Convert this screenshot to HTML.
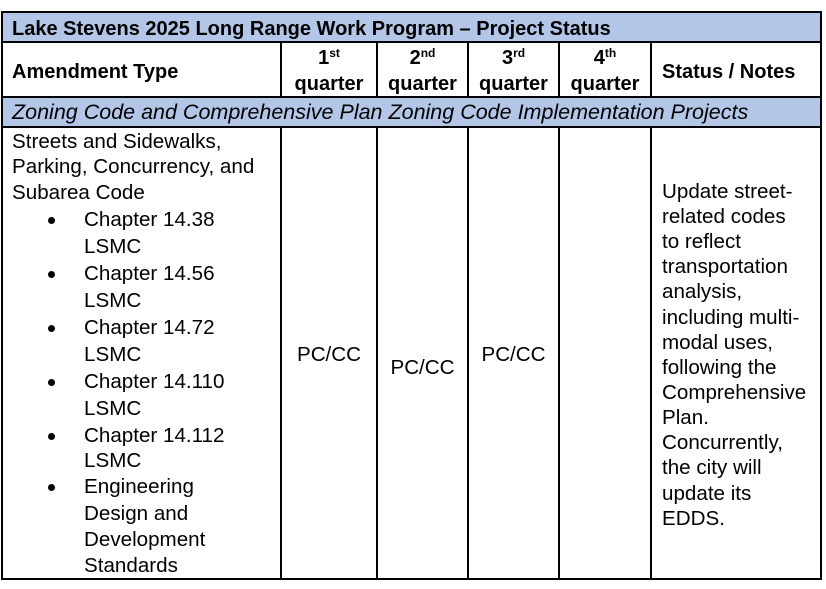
<!DOCTYPE html>
<html><head><style>
body{margin:0;width:826px;height:589px;background:#fff;position:relative;overflow:hidden;font-family:"Liberation Sans",Arial,sans-serif;font-size:20.6px;color:#000}
.b{position:absolute;background:#b4c6e7}
.h{position:absolute;height:2px;background:#000}
.v{position:absolute;width:2px;background:#000}
.t{position:absolute;height:26px;line-height:26px;white-space:nowrap;margin-top:2px}
.c{text-align:center}
.bo{font-weight:bold;font-size:20px}
sup{font-size:12px;vertical-align:7px;line-height:0}
.dot{position:absolute;width:7px;height:7px;border-radius:50%;background:#000;margin-top:2px}
</style></head><body>
<div class="b" style="left:2px;top:12px;width:819px;height:30px"></div>
<div class="b" style="left:2px;top:97px;width:819px;height:30px"></div>
<div class="h" style="left:1px;top:11px;width:821px"></div>
<div class="h" style="left:1px;top:41px;width:821px"></div>
<div class="h" style="left:1px;top:96px;width:821px"></div>
<div class="h" style="left:1px;top:126px;width:821px"></div>
<div class="h" style="left:1px;top:578px;width:821px"></div>
<div class="v" style="left:1px;top:11px;height:569px"></div>
<div class="v" style="left:820px;top:11px;height:569px"></div>
<div class="v" style="left:280px;top:41px;height:57px"></div>
<div class="v" style="left:376px;top:41px;height:57px"></div>
<div class="v" style="left:467px;top:41px;height:57px"></div>
<div class="v" style="left:558px;top:41px;height:57px"></div>
<div class="v" style="left:650px;top:41px;height:57px"></div>
<div class="v" style="left:280px;top:126px;height:454px"></div>
<div class="v" style="left:376px;top:126px;height:454px"></div>
<div class="v" style="left:467px;top:126px;height:454px"></div>
<div class="v" style="left:558px;top:126px;height:454px"></div>
<div class="v" style="left:650px;top:126px;height:454px"></div>

<div class="t bo" style="left:12px;top:14px">Lake Stevens 2025 Long Range Work Program – Project Status</div>
<div class="t bo" style="left:12px;top:57px">Amendment Type</div>
<div class="t bo c" style="left:282px;width:94px;top:43px">1<sup>st</sup></div>
<div class="t bo c" style="left:282px;width:94px;top:69px">quarter</div>
<div class="t bo c" style="left:378px;width:89px;top:43px">2<sup>nd</sup></div>
<div class="t bo c" style="left:378px;width:89px;top:69px">quarter</div>
<div class="t bo c" style="left:469px;width:89px;top:43px">3<sup>rd</sup></div>
<div class="t bo c" style="left:469px;width:89px;top:69px">quarter</div>
<div class="t bo c" style="left:560px;width:90px;top:43px">4<sup>th</sup></div>
<div class="t bo c" style="left:560px;width:90px;top:69px">quarter</div>
<div class="t bo" style="left:662px;top:57px">Status / Notes</div>
<div class="t" style="left:12px;top:97px;font-style:italic;font-size:21.5px">Zoning Code and Comprehensive Plan Zoning Code Implementation Projects</div>

<div class="t" style="left:12px;top:127px">Streets and Sidewalks,</div>
<div class="t" style="left:12px;top:152px">Parking, Concurrency, and</div>
<div class="t" style="left:12px;top:178px">Subarea Code</div>
<div class="dot" style="left:48px;top:215px"></div>
<div class="t" style="left:84px;top:205px">Chapter 14.38</div>
<div class="t" style="left:84px;top:232px">LSMC</div>
<div class="dot" style="left:48px;top:269px"></div>
<div class="t" style="left:84px;top:259px">Chapter 14.56</div>
<div class="t" style="left:84px;top:286px">LSMC</div>
<div class="dot" style="left:48px;top:323px"></div>
<div class="t" style="left:84px;top:313px">Chapter 14.72</div>
<div class="t" style="left:84px;top:340px">LSMC</div>
<div class="dot" style="left:48px;top:377px"></div>
<div class="t" style="left:84px;top:367px">Chapter 14.110</div>
<div class="t" style="left:84px;top:394px">LSMC</div>
<div class="dot" style="left:48px;top:431px"></div>
<div class="t" style="left:84px;top:421px">Chapter 14.112</div>
<div class="t" style="left:84px;top:446px">LSMC</div>
<div class="dot" style="left:48px;top:482px"></div>
<div class="t" style="left:84px;top:472px">Engineering</div>
<div class="t" style="left:84px;top:499px">Design and</div>
<div class="t" style="left:84px;top:525px">Development</div>
<div class="t" style="left:84px;top:551px">Standards</div>

<div class="t c" style="left:282px;width:94px;top:340px">PC/CC</div>
<div class="t c" style="left:378px;width:89px;top:353px">PC/CC</div>
<div class="t c" style="left:469px;width:89px;top:340px">PC/CC</div>

<div class="t" style="left:662px;top:177px">Update street-</div>
<div class="t" style="left:662px;top:202px">related codes</div>
<div class="t" style="left:662px;top:227px">to reflect</div>
<div class="t" style="left:662px;top:252px">transportation</div>
<div class="t" style="left:662px;top:277px">analysis,</div>
<div class="t" style="left:662px;top:303px">including multi-</div>
<div class="t" style="left:662px;top:328px">modal uses,</div>
<div class="t" style="left:662px;top:353px">following the</div>
<div class="t" style="left:662px;top:378px">Comprehensive</div>
<div class="t" style="left:662px;top:403px">Plan.</div>
<div class="t" style="left:662px;top:428px">Concurrently,</div>
<div class="t" style="left:662px;top:453px">the city will</div>
<div class="t" style="left:662px;top:479px">update its</div>
<div class="t" style="left:662px;top:504px">EDDS.</div>
</body></html>
